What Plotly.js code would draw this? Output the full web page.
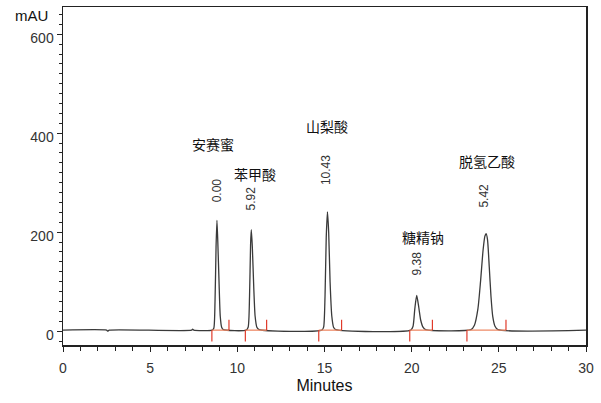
<!DOCTYPE html>
<html>
<head>
<meta charset="utf-8">
<script src="https://cdn.plot.ly/plotly-3.0.1.min.js"></script>
<style>html,body{margin:0;padding:0;background:#fff;}#chart{width:601px;height:403px;}</style>
</head>
<body>
<div id="chart"></div>
<script>
// Chromatogram trace (minutes, mAU)
const timeMin = [0, 2.5, 2.57, 2.65, 7.38, 7.43, 7.5,
  8.55, 8.65, 8.72, 8.78, 8.83, 8.88, 8.95, 9.02, 9.10, 9.20,
  10.50, 10.62, 10.70, 10.76, 10.80, 10.86, 10.94, 11.02, 11.12, 11.25,
  14.85, 14.95, 15.03, 15.10, 15.17, 15.24, 15.32, 15.42, 15.52, 15.65,
  19.95, 20.08, 20.18, 20.29, 20.40, 20.52, 20.65, 20.80,
  23.40, 23.60, 23.80, 23.95, 24.10, 24.20, 24.27, 24.35, 24.45, 24.55, 24.65, 24.78, 24.95,
  30];
const signal = [2, 2, 0, 2, 2, 4, 2,
  2, 6, 60, 170, 224, 180, 100, 30, 8, 3,
  2, 8, 70, 175, 205, 170, 90, 30, 8, 3,
  2, 8, 70, 190, 241, 200, 100, 30, 8, 3,
  2, 10, 45, 72, 50, 22, 8, 3,
  3, 12, 45, 100, 165, 192, 197, 185, 130, 70, 30, 10, 3,
  2];

// Peaks
const peakNames = ["安赛蜜", "苯甲酸", "山梨酸", "糖精钠", "脱氢乙酸"];
const peakLabels = ["0.00", "5.92", "10.43", "9.38", "5.42"];
const peakStart = [8.54, 10.46, 14.67, 19.89, 23.17];
const peakEnd = [9.52, 11.68, 15.98, 21.19, 25.41];
const baselineLevel = 2;

// Axis ticks
const xTicks = [0, 5, 10, 15, 20, 25, 30];
const yTicks = [0, 200, 400, 600];

// --- integration marks (layout constants) ---
const downLen = -21, upLen = 23;
const bx = [], by = [], mx = [], my = [];
peakStart.forEach((s, i) => {
  const e = peakEnd[i];
  bx.push(s, e, null); by.push(baselineLevel, baselineLevel, null);
  mx.push(s, s, null, e, e, null);
  my.push(baselineLevel, downLen, null, baselineLevel, upLen, null);
});

const traces = [
  {x: timeMin, y: signal, type: 'scatter', mode: 'lines',
   line: {color: '#3a3a3a', width: 1.3, shape: 'spline', smoothing: 0.6},
   hoverinfo: 'skip'},
  {x: bx, y: by, type: 'scatter', mode: 'lines',
   line: {color: '#ee8a66', width: 1.3}, hoverinfo: 'skip'},
  {x: mx, y: my, type: 'scatter', mode: 'lines',
   line: {color: '#e03a2a', width: 1.2}, hoverinfo: 'skip'}
];

// label positions (data coordinates)
const namePos = [[8.63, 379], [11.01, 317], [15.13, 414], [20.63, 191], [24.32, 344]];
const numPos = [[8.82, 284], [10.78, 268], [15.13, 325], [20.31, 137], [24.15, 274]];

const annotations = [];
peakNames.forEach((n, i) => {
  annotations.push({x: namePos[i][0], y: namePos[i][1], xref: 'x', yref: 'y', text: n,
    showarrow: false, font: {family: 'Noto Sans CJK SC', size: 14, color: '#111'}});
  annotations.push({x: numPos[i][0], y: numPos[i][1], xref: 'x', yref: 'y', text: peakLabels[i],
    showarrow: false, textangle: -90, font: {family: 'Liberation Sans', size: 12, color: '#333'}});
});
annotations.push({x: 0, y: 1, xref: 'paper', yref: 'paper', text: 'mAU', showarrow: false,
  xanchor: 'right', yanchor: 'middle', xshift: -13, yshift: -8,
  font: {family: 'Liberation Sans', size: 15, color: '#111'}});

const layout = {
  width: 601, height: 403,
  margin: {l: 63, r: 15, t: 7, b: 58},
  paper_bgcolor: '#fff', plot_bgcolor: '#fff',
  showlegend: false,
  font: {family: 'Liberation Sans', color: '#333'},
  xaxis: {
    range: [0, 30], tickvals: xTicks, ticktext: xTicks.map(String),
    showgrid: false, zeroline: false, showline: true, linecolor: '#222', linewidth: 1.5,
    mirror: true, ticks: 'outside', ticklen: 5, tickcolor: '#222', tickwidth: 1,
    minor: {dtick: 1, ticks: 'outside', ticklen: 4, tickcolor: '#222', showgrid: false},
    tickfont: {family: 'Liberation Sans', size: 14, color: '#333'},
    ticklabelstandoff: 5,
    title: {text: 'Minutes', font: {family: 'Liberation Sans', size: 16, color: '#111'}, standoff: 4}
  },
  yaxis: {
    range: [-28, 655], tickvals: yTicks, ticktext: yTicks.map(String),
    showgrid: false, zeroline: false, showline: true, linecolor: '#222', linewidth: 1.5,
    mirror: true, ticks: 'outside', ticklen: 5, tickcolor: '#222', tickwidth: 1,
    minor: {dtick: 20, ticks: 'outside', ticklen: 3, tickcolor: '#222', showgrid: false},
    tickfont: {family: 'Liberation Sans', size: 14, color: '#333'},
    ticklabelshift: 4
  },
  annotations: annotations
};

Plotly.newPlot('chart', traces, layout, {staticPlot: true, displayModeBar: false});
</script>
</body>
</html>
